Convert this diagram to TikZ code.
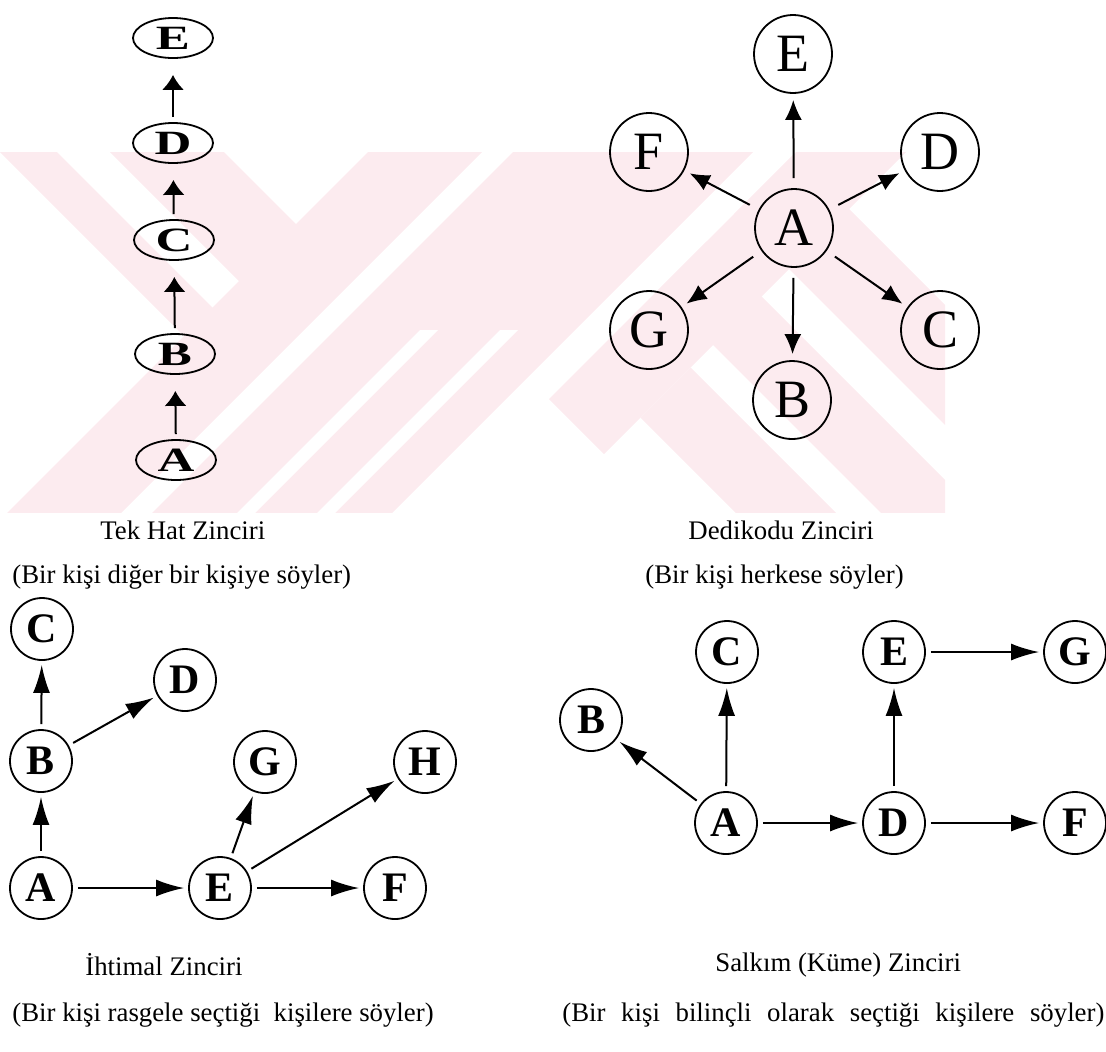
\documentclass[tikz,border=0pt]{standalone}
\usepackage{fontspec}
\setmainfont{Liberation Serif}
\usepackage{graphicx}
\usetikzlibrary{arrows.meta,shapes.geometric}

\definecolor{wmpink}{RGB}{252,235,239}
\newcommand{\widechar}[1]{\scalebox{1.5}[1]{#1}}

\tikzset{
  chainnode/.style={draw, ellipse, line width=0.9pt, minimum width=40pt, minimum height=20pt,
    inner sep=0pt, font=\fontsize{17}{17}\selectfont\bfseries},
  starnode/.style={draw, circle, line width=0.9pt, minimum size=39pt, inner sep=0pt,
    font=\fontsize{27}{27}\selectfont},
  smallnode/.style={draw, circle, line width=0.9pt, minimum size=31pt, inner sep=0pt,
    font=\fontsize{21}{21}\selectfont\bfseries},
  caption/.style={anchor=west, inner sep=0pt, font=\fontsize{13.4}{15}\selectfont},
  chainlink/.style={-{Latex[length=7.5pt,width=11pt]}, line width=1pt, shorten <=2.5pt, shorten >=8pt},
  starlink/.style={-{Latex[length=10pt,width=8.5pt]}, line width=1pt, shorten <=5pt, shorten >=3pt},
  link/.style={-{Latex[length=14pt,width=8.5pt]}, line width=1pt, shorten <=2.5pt, shorten >=2pt},
}

\begin{document}
\begin{tikzpicture}[x=0.5pt, y=-0.5pt]
\useasboundingbox (0,0) rectangle (1106,1051);

% faint striped mark behind the upper row
\begin{scope}
  \clip (0,152) rectangle (945,512);
  % arm from the upper left
  \fill[wmpink] (-52,100) -- (5,100) -- (252.5,347.5) -- (224,376) -- cycle;
  \fill[wmpink] (58,100) -- (172,100) -- (336,264) -- (279,321) -- cycle;
  % long bands rising to the right
  \fill[wmpink] (420,100) -- (534,100) -- (74,560) -- (-40,560) -- cycle;
  \fill[wmpink] (565,100) -- (805,100) -- (345,560) -- (105,560) -- cycle;
  \fill[wmpink] (848,100) -- (958,100) -- (604,454) -- (549,399) -- cycle;
  % bands falling to the right
  \fill[wmpink] (640.5,417.5) -- (690.5,367.5) -- (883,560) -- (783,560) -- cycle;
  \fill[wmpink] (658,290) -- (706.5,241.5) -- (1025,560) -- (928,560) -- cycle;
  \fill[wmpink] (734,214) -- (794,154) -- (1200,560) -- (1080,560) -- cycle;
  % gaps in the lower part of the wide band
  \foreach \g in {750,830}
    \fill[white] (\g-330,330) -- (\g+18-330,330) -- (\g+18-560,560) -- (\g-560,560) -- cycle;
\end{scope}

% Tek Hat Zinciri
\node[chainnode] (tE) at (173,38) {\widechar{E}};
\node[chainnode] (tD) at (173,143) {\widechar{D}};
\node[chainnode] (tC) at (174,240) {\widechar{C}};
\node[chainnode] (tB) at (175,354) {\widechar{B}};
\node[chainnode] (tA) at (176,460) {\widechar{A}};
\draw[chainlink] (tA) -- (tB);
\draw[chainlink] (tB) -- (tC);
\draw[chainlink] (tC) -- (tD);
\draw[chainlink] (tD) -- (tE);

% Dedikodu Zinciri
\node[starnode] (sA) at (794,228) {A};
\node[starnode] (sE) at (793,54) {E};
\node[starnode] (sF) at (649,152) {F};
\node[starnode] (sD) at (940,152) {D};
\node[starnode] (sG) at (649,330) {G};
\node[starnode] (sC) at (940,330) {C};
\node[starnode] (sB) at (792,400) {B};
\foreach \t in {E,F,D,G,C,B}
  \draw[starlink] (sA) -- (s\t);

% Ihtimal Zinciri
\node[smallnode] (pC) at (42,629) {C};
\node[smallnode] (pD) at (185,680) {D};
\node[smallnode] (pB) at (41,761) {B};
\node[smallnode] (pG) at (265,762) {G};
\node[smallnode] (pH) at (425,762) {H};
\node[smallnode] (pA) at (41,888) {A};
\node[smallnode] (pE) at (220,888) {E};
\node[smallnode] (pF) at (395,888) {F};
\draw[link] (pA) -- (pB);
\draw[link] (pB) -- (pC);
\draw[link] (pB) -- (pD);
\draw[link] (pA) -- (pE);
\draw[link] (pE) -- (pG);
\draw[link] (pE) -- (pH);
\draw[link] (pE) -- (pF);

% Salkim Zinciri
\node[smallnode] (kB) at (591,720) {B};
\node[smallnode] (kC) at (727,652) {C};
\node[smallnode] (kE) at (894,652) {E};
\node[smallnode] (kG) at (1075,652) {G};
\node[smallnode] (kA) at (726,823) {A};
\node[smallnode] (kD) at (894,823) {D};
\node[smallnode] (kF) at (1075,823) {F};
\draw[link] (kA) -- (kB);
\draw[link] (kA) -- (kC);
\draw[link] (kA) -- (kD);
\draw[link] (kD) -- (kE);
\draw[link] (kE) -- (kG);
\draw[link] (kD) -- (kF);

% captions
\node[caption] (capTek) at (100,530) {Tek Hat Zinciri};
\node[caption] (capTekSub) at (12,577) {(Bir kişi diğer bir kişiye söyler)};
\node[caption] (capDed) at (688,530) {Dedikodu Zinciri};
\node[caption] (capDedSub) at (645,577) {(Bir kişi herkese söyler)};
\node[caption] (capIht) at (85,965) {İhtimal Zinciri};
\node[caption] (capIhtSub) at (12,1015) {(Bir kişi rasgele seçtiği\ \ kişilere söyler)};
\node[caption] (capSal) at (715,965) {Salkım (Küme) Zinciri};
\node[caption] (capSalSub) at (562,1015) {\makebox[271pt][s]{(Bir kişi bilinçli olarak seçtiği kişilere söyler)}};
\end{tikzpicture}
\end{document}
